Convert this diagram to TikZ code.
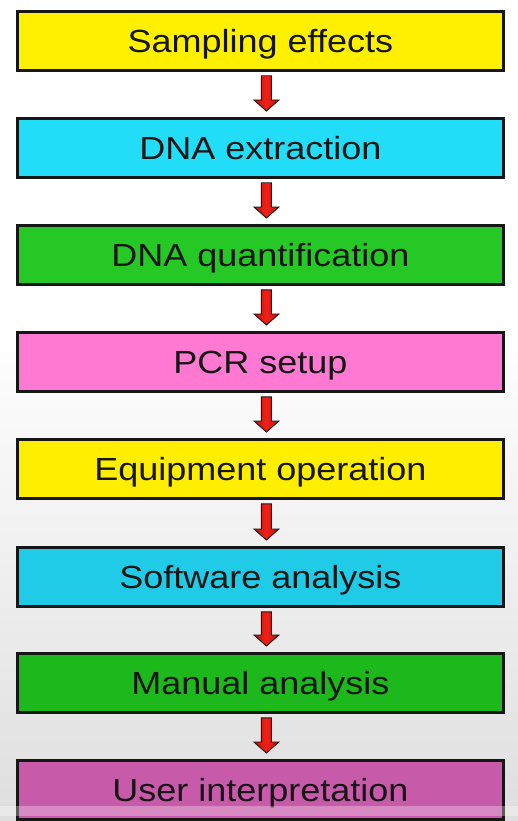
\documentclass[tikz,border=0pt]{standalone}
\usepackage{graphicx}
\usepackage{fontspec}
\setmainfont{Liberation Sans}
\usetikzlibrary{calc}

% background: white at the top, fading to light grey at the bottom
\pgfdeclareverticalshading{screenbg}{100bp}{color(0bp)=(black!19); color(20bp)=(black!15); color(55bp)=(white); color(100bp)=(white)}

\definecolor{boxyellow}{HTML}{FFF000}
\definecolor{boxyellowb}{HTML}{FFEE00}
\definecolor{boxcyan}{HTML}{22DDF8}
\definecolor{boxcyanb}{HTML}{1FCBE6}
\definecolor{boxgreen}{HTML}{26C826}
\definecolor{boxgreenb}{HTML}{1CB81C}
\definecolor{boxpink}{HTML}{FF78D2}
\definecolor{boxplum}{HTML}{C85AAA}
\definecolor{arrowred}{HTML}{F22018}
\definecolor{arrowdark}{HTML}{B8140E}
\definecolor{inkblack}{HTML}{161616}

% block arrow from the bottom of one stage to the top of the next
\newcommand\flowarrow[2]{%
  \draw[blockarrow]
    ($(#1.south)+(1,4)$) -- ($(#1.south)+(11,4)$)
    -- ($(#2.north)+(11,-17)$) -- ($(#2.north)+(18.5,-17)$)
    -- ($(#2.north)+(6,-6)$)
    -- ($(#2.north)+(-6.5,-17)$) -- ($(#2.north)+(1,-17)$) -- cycle;}

% stage labels are set slightly widened
\newcommand\stagetext[1]{\scalebox{1.125}[1]{#1}}

\begin{document}
\begin{tikzpicture}[x=1pt,y=-1pt,
  stage/.style={draw=inkblack, line width=2.8pt, minimum width=486pt,
    minimum height=59pt, inner sep=0pt, anchor=north west, text=inkblack,
    font=\fontsize{32}{32}\selectfont, text height=23pt, text depth=0pt},
  blockarrow/.style={draw=inkblack, line width=0.9pt, line join=miter,
    left color=arrowdark, right color=arrowdark, middle color=arrowred}]

\useasboundingbox (0,0) rectangle (518,821);
\begin{scope}[y=1pt]
  \shade[shading=screenbg] (0,-821) rectangle (518,0);
\end{scope}

\node[stage, fill=boxyellow]  (s1) at (16,10)  {\stagetext{Sampling effects}};
\node[stage, fill=boxcyan]    (s2) at (16,117) {\stagetext{DNA extraction}};
\node[stage, fill=boxgreen]   (s3) at (16,224) {\stagetext{DNA quantification}};
\node[stage, fill=boxpink]    (s4) at (16,331) {\stagetext{PCR setup}};
\node[stage, fill=boxyellowb] (s5) at (16,438) {\stagetext{Equipment operation}};
\node[stage, fill=boxcyanb]   (s6) at (16,546) {\stagetext{Software analysis}};
\node[stage, fill=boxgreenb]  (s7) at (16,652) {\stagetext{Manual analysis}};
\node[stage, fill=boxplum]    (s8) at (16,759) {\stagetext{User interpretation}};

\flowarrow{s1}{s2}
\flowarrow{s2}{s3}
\flowarrow{s3}{s4}
\flowarrow{s4}{s5}
\flowarrow{s5}{s6}
\flowarrow{s6}{s7}
\flowarrow{s7}{s8}

% light band across the bottom edge
\fill[white, opacity=0.3] (0,806) rectangle (518,816);
\end{tikzpicture}
\end{document}
